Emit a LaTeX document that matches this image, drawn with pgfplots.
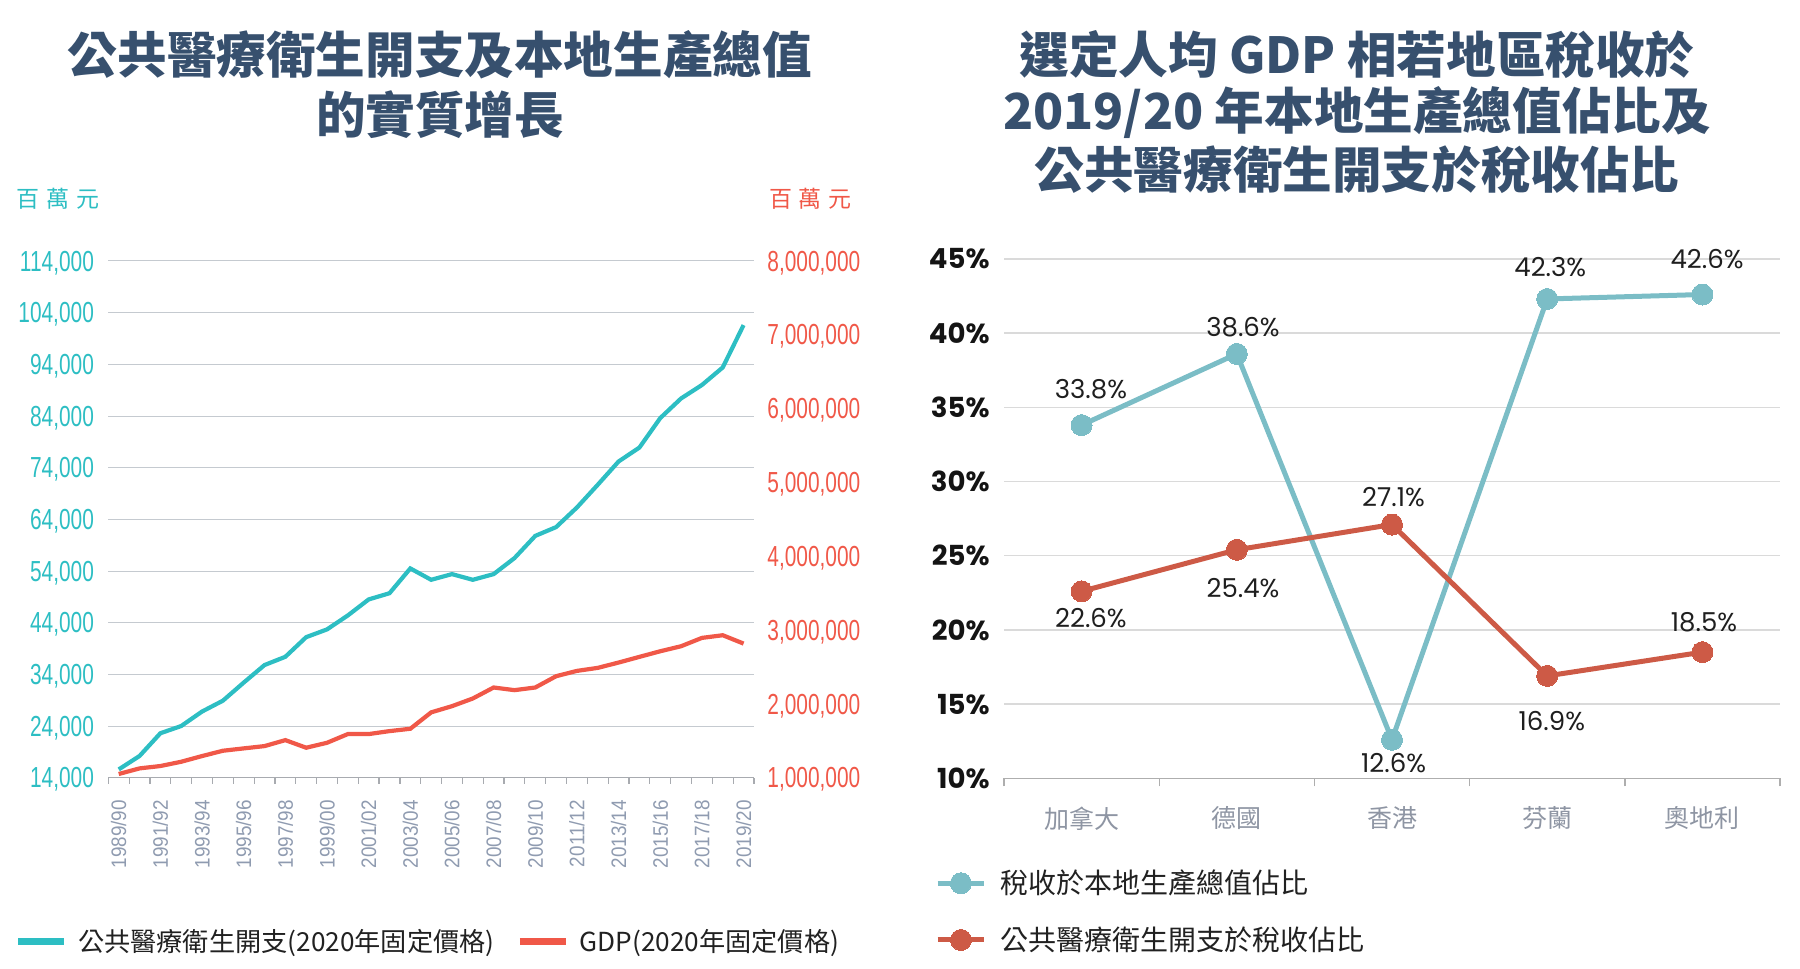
\documentclass[border=0pt]{standalone}
\usepackage{fontspec}
\usepackage{pgfplots}
\usepackage{pgfplotstable}
\pgfplotsset{compat=1.18}
\setmainfont{Noto Sans CJK TC}
\newfontfamily\cjk{Noto Sans CJK TC}
\newfontfamily\condfont[FakeStretch=0.72]{Liberation Sans}
\newfontfamily\xfont[FakeStretch=0.9]{Liberation Sans}
\newfontfamily\pop{Poppins}

\definecolor{lteal}{HTML}{2DBEC3}
\definecolor{lred}{HTML}{F05848}
\definecolor{rblue}{HTML}{7BBDC6}
\definecolor{rred}{HTML}{CD5A46}
\definecolor{ttl}{HTML}{37506E}
\definecolor{xlab}{HTML}{8F9BB0}
\definecolor{catlab}{HTML}{8E95A3}
\definecolor{lgrid}{HTML}{C5CAD0}
\definecolor{rgrid}{HTML}{DADADA}
\definecolor{axgray}{HTML}{A8ABB0}

\tikzset{dlab/.style={font=\pop\fontsize{13pt}{15pt}\selectfont, text=black!88, inner sep=0pt}}

\pgfplotstableread{
x health gdp
1 15600 1050000
2 18200 1126000
3 22600 1158000
4 24000 1216000
5 26800 1293000
6 28900 1365000
7 32400 1397000
8 35800 1428000
9 37400 1509000
10 41200 1406000
11 42700 1473000
12 45400 1591000
13 48500 1591000
14 49700 1631000
15 54500 1663000
16 52300 1885000
17 53400 1969000
18 52300 2073000
19 53400 2222000
20 56500 2186000
21 60800 2222000
22 62500 2375000
23 66300 2447000
24 70700 2488000
25 75200 2560000
26 77900 2637000
27 83600 2713000
28 87400 2781000
29 90000 2894000
30 93400 2930000
31 101600 2817000
}\leftdata

\pgfplotstableread{
x tax health
1 33.8 22.6
2 38.6 25.4
3 12.6 27.1
4 42.3 16.9
5 42.6 18.5
}\rightdata

\begin{document}
\begin{tikzpicture}
\path[use as bounding box] (0,0) rectangle (900pt,484.5pt);

% titles
\begin{scope}[every node/.style={font=\cjk\bfseries\fontsize{24.8pt}{28pt}\selectfont, text=ttl, inner sep=0pt}]
\node at (220pt,457pt) {公共醫療衛生開支及本地生產總值};
\node at (220pt,427pt) {的實質增長};
\node at (678.5pt,457pt) {選定人均 GDP 相若地區稅收於};
\node at (678.5pt,428.25pt) {2019/20 年本地生產總值佔比及};
\node at (678.5pt,399.5pt) {公共醫療衛生開支於稅收佔比};
\end{scope}

\node[font=\cjk\fontsize{11.5pt}{13pt}\selectfont, text=lteal, inner sep=0pt] at (29.25pt,385.2pt) {百\hspace{3.5pt}萬\hspace{3.5pt}元};
\node[font=\cjk\fontsize{11.5pt}{13pt}\selectfont, text=lred, inner sep=0pt] at (405.25pt,385.2pt) {百\hspace{3.5pt}萬\hspace{3.5pt}元};

% ---------- left chart: health spending (left axis)
\begin{axis}[
  at={(54.15pt,95.65pt)}, anchor=south west,
  scale only axis, width=322.85pt, height=258.35pt,
  xmin=0.5, xmax=31.5, ymin=14000, ymax=114000,
  scaled y ticks=false,
  axis y line*=left, axis x line*=bottom,
  y axis line style={draw=none},
  x axis line style={-, draw=axgray, line width=0.6pt},
  ytick={14000,24000,34000,44000,54000,64000,74000,84000,94000,104000,114000},
  yticklabels={{14,000},{24,000},{34,000},{44,000},{54,000},{64,000},{74,000},{84,000},{94,000},{104,000},{114,000}},
  ymajorgrids, grid style={lgrid, line width=0.5pt},
  major tick length=0pt,
  tick align=outside,
  minor tick length=3pt,
  xtick={1,3,...,31},
  xticklabels={1989/90,1991/92,1993/94,1995/96,1997/98,1999/00,2001/02,2003/04,2005/06,2007/08,2009/10,2011/12,2013/14,2015/16,2017/18,2019/20},
  minor xtick={0.5,1.5,...,31.5},
  minor x tick style={draw=axgray, line width=0.6pt},
  yticklabel style={font=\condfont\fontsize{14.5pt}{16pt}\selectfont, text=lteal, inner sep=0pt, text depth=0pt, xshift=-7pt},
  xticklabel style={font=\xfont\fontsize{10.5pt}{12pt}\selectfont, text=xlab, inner sep=0pt, yshift=-11pt, rotate=90, anchor=east},
  legend columns=2,
  legend cell align=left,
  legend style={at={(-0.1445,-0.3174)}, anchor=west, draw=none, fill=none, inner sep=0pt, outer sep=0pt,
    font=\cjk\fontsize{13.1pt}{16pt}\selectfont, text=black!87,
    nodes={inner sep=0pt, text height=10.9pt, text depth=1pt},
    /tikz/every odd column/.append style={column sep=5.35pt},
    /tikz/every even column/.append style={column sep=11pt}},
  legend image code/.code={\draw[#1, line width=3.2pt] (0pt,0pt) -- (23pt,0pt);},
]
\addplot[lteal, line width=2.1pt] table[x=x,y=health]{\leftdata};
\addlegendentry{公共醫療衛生開支(2020年固定價格)}
\addlegendimage{lred, line width=2.1pt}
\addlegendentry{GDP(2020年固定價格)}
\end{axis}

% ---------- left chart: GDP (right axis)
\begin{axis}[
  at={(54.15pt,95.65pt)}, anchor=south west,
  scale only axis, width=322.85pt, height=258.35pt,
  xmin=0.5, xmax=31.5, ymin=1000000, ymax=8000000,
  scaled y ticks=false,
  axis x line=none, axis y line*=right,
  y axis line style={draw=none},
  major tick length=0pt,
  ytick={1000000,2000000,3000000,4000000,5000000,6000000,7000000,8000000},
  yticklabels={{1,000,000},{2,000,000},{3,000,000},{4,000,000},{5,000,000},{6,000,000},{7,000,000},{8,000,000}},
  yticklabel style={font=\condfont\fontsize{14.5pt}{16pt}\selectfont, text=lred, inner sep=0pt, text depth=0pt, anchor=west, xshift=6.5pt},
]
\addplot[lred, line width=2.1pt] table[x=x,y=gdp]{\leftdata};
\end{axis}

% ---------- right chart
\begin{axis}[
  at={(502pt,95.35pt)}, anchor=south west,
  scale only axis, width=388pt, height=259.7pt,
  xmin=0.5, xmax=5.5, ymin=10, ymax=45,
  clip=false,
  axis y line*=left, axis x line*=bottom,
  y axis line style={draw=none},
  x axis line style={-, draw=rgrid!80!black, line width=0.7pt},
  ytick={10,15,...,45},
  yticklabels={10\%,15\%,20\%,25\%,30\%,35\%,40\%,45\%},
  ymajorgrids, grid style={rgrid, line width=0.7pt},
  major tick length=0pt,
  tick align=outside,
  minor tick length=4pt,
  minor xtick={0.5,1.5,...,5.5},
  minor x tick style={draw=rgrid!80!black, line width=0.7pt},
  xtick={1,2,3,4,5},
  xticklabels={加拿大,德國,香港,芬蘭,奧地利},
  yticklabel style={font=\pop\bfseries\fontsize{13.8pt}{16pt}\selectfont, text=black!92, inner sep=0pt, xshift=-7pt},
  xticklabel style={font=\cjk\fontsize{12.5pt}{15pt}\selectfont, text=catlab, inner sep=0pt, anchor=center, yshift=-20pt},
  legend cell align=left,
  legend style={at={(-0.0889,-0.2567)}, anchor=west, draw=none, fill=none, inner sep=0pt, outer sep=0pt,
    font=\cjk\fontsize{14pt}{16pt}\selectfont, text=black!87,
    row sep=15.75pt,
    nodes={inner sep=0pt, text height=11.6pt, text depth=1pt},
    /tikz/every odd column/.append style={column sep=6.65pt}},
  legend image code/.code={\draw[mark repeat=2,mark phase=2,#1] plot coordinates {(0pt,0pt) (11.7pt,0pt) (23.35pt,0pt)};},
]
\addplot[rblue, line width=2.5pt, mark=*, mark size=5.25pt, mark options={fill=rblue, draw=rblue, line width=0pt}] table[x=x,y=tax]{\rightdata};
\addlegendentry{稅收於本地生產總值佔比}
\addplot[rred, line width=2.5pt, mark=*, mark size=5.25pt, mark options={fill=rred, draw=rred, line width=0pt}] table[x=x,y=health]{\rightdata};
\addlegendentry{公共醫療衛生開支於稅收佔比}
\node[dlab] at (axis cs:1.06,36.23) {33.8\%};
\node[dlab] at (axis cs:2.04,40.41) {38.6\%};
\node[dlab] at (axis cs:3.01,11.03) {12.6\%};
\node[dlab] at (axis cs:4.02,44.45) {42.3\%};
\node[dlab] at (axis cs:5.03,45.0) {42.6\%};
\node[dlab] at (axis cs:1.06,20.80) {22.6\%};
\node[dlab] at (axis cs:2.04,22.82) {25.4\%};
\node[dlab] at (axis cs:3.01,28.96) {27.1\%};
\node[dlab] at (axis cs:4.03,13.86) {16.9\%};
\node[dlab] at (axis cs:5.01,20.53) {18.5\%};
\end{axis}
\end{tikzpicture}
\end{document}
